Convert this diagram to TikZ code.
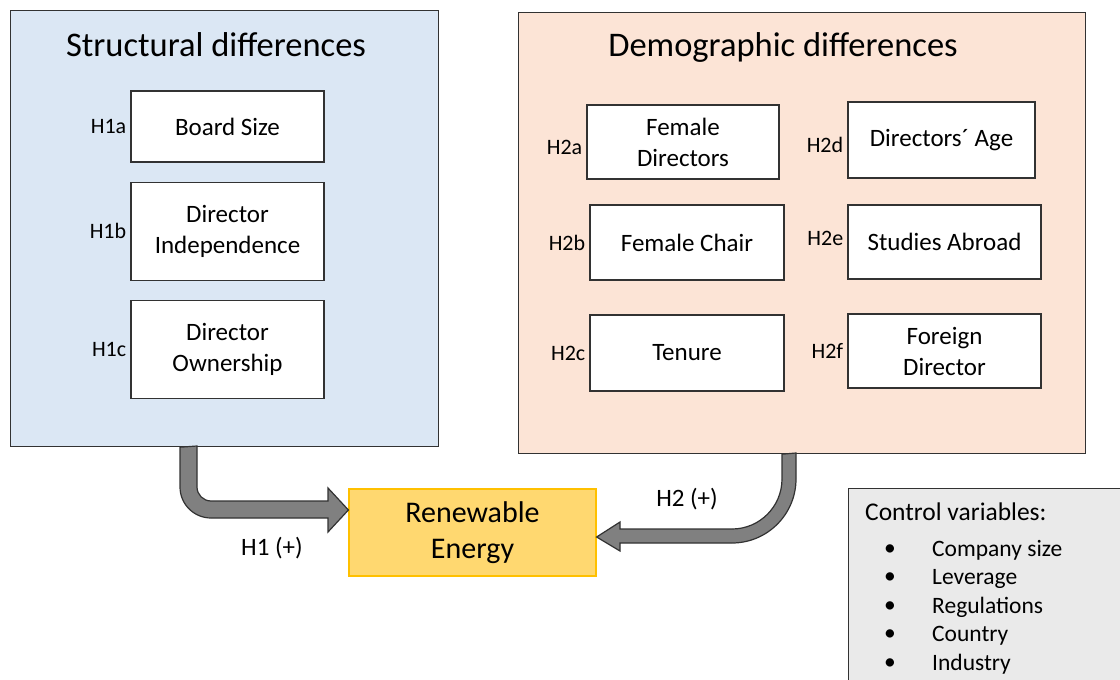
\documentclass[tikz,border=0pt]{standalone}
\usepackage{fontspec}
\setmainfont{Carlito}
\usetikzlibrary{positioning, calc}
\definecolor{structblue}{RGB}{219,231,244}
\definecolor{demopeach}{RGB}{252,228,214}
\definecolor{energyfill}{RGB}{255,216,112}
\definecolor{energyborder}{RGB}{255,192,0}
\definecolor{controlgray}{RGB}{234,234,234}
\definecolor{arrowgray}{RGB}{128,128,128}
\definecolor{edgegray}{RGB}{50,50,50}
\tikzset{
    groupbox/.style={rectangle, draw=edgegray, line width=1.2pt, anchor=north west, inner sep=0pt},
    grouptitle/.style={font=\fontsize{34.5}{40}\selectfont, inner sep=0pt},
    itembox/.style={rectangle, draw=edgegray, line width=1.2pt, fill=white, align=center, inner sep=0pt, font=\fontsize{25}{31}\selectfont},
    hlabel/.style={font=\fontsize{22}{26}\selectfont, inner sep=1pt},
    arrowlabel/.style={font=\fontsize{25}{30}\selectfont, inner sep=0pt},
    ctrltext/.style={font=\fontsize{23.5}{28}\selectfont, inner sep=0pt, anchor=west},
    blockarrow/.style={fill=arrowgray, draw=edgegray, line width=1.2pt, line join=miter},
}

\begin{document}
\begin{tikzpicture}[x=1pt, y=-1pt]

\useasboundingbox (0,0) rectangle (1120,680);
\clip (0,0) rectangle (1120,680);

% Structural differences
\node[groupbox, fill=structblue, minimum width=428pt, minimum height=436pt] (struct) at (10,10) {};
\node[grouptitle] (struct-title) at (216,45) {Structural differences};
\node[itembox, minimum width=193pt, minimum height=71pt] (board) at (227.5,126.5) {Board Size};
\node[itembox, minimum width=193pt, minimum height=98pt, below=19pt of board] (indep) {Director\\Independence};
\node[itembox, minimum width=193pt, minimum height=98pt, below=19pt of indep] (owner) {Director\\Ownership};
\node[hlabel, left=3pt of board] (h1a) {H1a};
\node[hlabel, left=3pt of indep] (h1b) {H1b};
\node[hlabel, left=3pt of owner] (h1c) {H1c};

% Demographic differences
\node[groupbox, fill=demopeach, minimum width=567pt, minimum height=441pt] (demo) at (518,12) {};
\node[grouptitle] (demo-title) at (783,47) {Demographic differences};
\node[itembox, minimum width=192pt, minimum height=74pt] (femdir) at (683,142) {Female\\Directors};
\node[itembox, minimum width=187pt, minimum height=76pt] (age) at (941.5,140) {Directors´ Age};
\node[itembox, minimum width=194pt, minimum height=75pt] (femchair) at (687,242.5) {Female Chair};
\node[itembox, minimum width=193pt, minimum height=74pt] (abroad) at (944.5,242) {Studies Abroad};
\node[itembox, minimum width=194pt, minimum height=76pt] (tenure) at (687,353) {Tenure};
\node[itembox, minimum width=193pt, minimum height=74pt] (foreign) at (944.5,351) {Foreign\\Director};
\node[hlabel, left=3pt of femdir, yshift=-5pt] (h2a) {H2a};
\node[hlabel, left=3pt of femchair] (h2b) {H2b};
\node[hlabel, left=3pt of tenure] (h2c) {H2c};
\node[hlabel, left=3pt of age, yshift=-5pt] (h2d) {H2d};
\node[hlabel, left=3pt of abroad, yshift=4pt] (h2e) {H2e};
\node[hlabel, left=3pt of foreign] (h2f) {H2f};

% Outcome
\node[itembox, fill=energyfill, draw=energyborder, minimum width=247pt, minimum height=87pt, font=\fontsize{30}{36}\selectfont] (energy) at (472.5,532.5) {Renewable\\Energy};

% Control variables
\node[groupbox, fill=controlgray, minimum width=290pt, minimum height=200pt] (control) at (848,488) {};
\node[ctrltext, font=\fontsize{25.5}{30}\selectfont] (control-title) at (865,512) {Control variables:};
\foreach \ctrl [count=\i] in {Company size, Leverage, Regulations, Country, Industry} {
    \node[ctrltext] (ctrl-\i) at (932,521.5+28.5*\i) {\ctrl};
    \node[ctrltext] (bullet-\i) at (884,521.5+28.5*\i) {\textbullet};
}

% Block arrows
\coordinate (h1-top) at ([xshift=170pt]struct.south west);
\coordinate (h1-tip) at ([yshift=22.5pt]energy.west);
\filldraw[blockarrow] (h1-top) -- (180,487) .. controls (180,504.1) and (193.9,518) .. (211,518) -- (328,518) -- (328,532) -- (h1-tip) -- (328,488) -- (328,501) -- (211,501) .. controls (203.3,501) and (197,494.7) .. (197,487) -- (197,446) -- cycle;
\node[arrowlabel] (h1-label) at (272,548) {H1 (+)};

\coordinate (h2-top) at ([xshift=264pt]demo.south west);
\coordinate (h2-tip) at ([yshift=-4.5pt]energy.east);
\filldraw[blockarrow] (h2-top) -- (782,479) .. controls (782,506.6) and (759.6,529) .. (732,529) -- (620,529) -- (620,522) -- (h2-tip) -- (620,551) -- (620,543) -- (732,543) .. controls (767.3,543) and (796,514.3) .. (796,479) -- (796,453) -- cycle;
\node[arrowlabel] (h2-label) at (687,499) {H2 (+)};

\end{tikzpicture}
\end{document}
